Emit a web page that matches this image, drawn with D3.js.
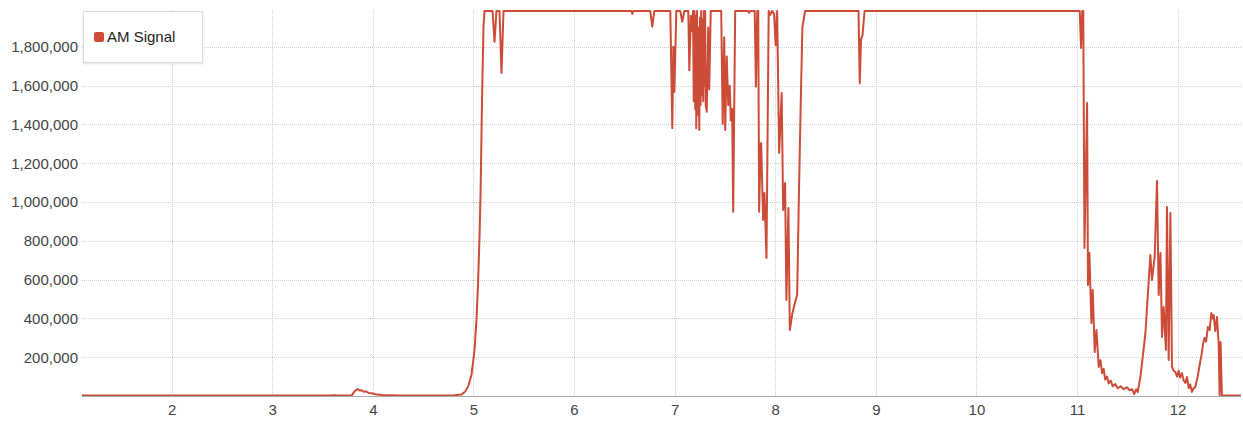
<!DOCTYPE html>
<html>
<head>
<meta charset="utf-8">
<script src="https://cdn.jsdelivr.net/npm/d3@7"></script>
<style>
  html, body { margin: 0; padding: 0; background: #fff; }
  svg { display: block; font-family: "Liberation Sans", Arial, sans-serif; }
</style>
</head>
<body>
<svg id="chart" width="1243" height="422"></svg>
<script>
// ---- data ----
const seriesName = "AM Signal";
const xTicks = [2, 3, 4, 5, 6, 7, 8, 9, 10, 11, 12];
const yTicks = [200000, 400000, 600000, 800000, 1000000, 1200000, 1400000, 1600000, 1800000];
const xValues = [
  1.109, 3.571, 3.621, 3.651, 3.790, 3.820, 3.849, 3.869, 3.889, 3.909, 3.929, 3.959, 3.988, 4.028, 4.097, 4.266,
  4.663, 4.812, 4.882, 4.922, 4.951, 4.981, 5.011, 5.031, 5.046, 5.061, 5.071, 5.080, 5.090, 5.100, 5.110,
  5.190, 5.210, 5.229, 5.259, 5.279, 5.299,
  6.570, 6.580, 6.590, 6.758, 6.778, 6.798,
  6.957, 6.977, 6.987, 6.997, 7.017, 7.056, 7.076, 7.096, 7.136, 7.146, 7.161,
  7.175, 7.183, 7.190, 7.197, 7.205, 7.210, 7.215, 7.222, 7.228, 7.235, 7.245, 7.252, 7.258, 7.264,
  7.270, 7.277, 7.284, 7.290, 7.296, 7.303, 7.309, 7.319, 7.334, 7.344, 7.359,
  7.463, 7.478, 7.493, 7.503, 7.518, 7.533, 7.548, 7.558, 7.572, 7.582, 7.602,
  7.731, 7.741, 7.751, 7.796, 7.808, 7.821, 7.831, 7.840, 7.855, 7.860, 7.880, 7.893, 7.913, 7.935,
  7.950, 7.969, 7.989, 8.004, 8.019, 8.039, 8.064, 8.079, 8.098, 8.111, 8.131, 8.145, 8.168, 8.203,
  8.218, 8.237, 8.254, 8.270, 8.297,
  8.828, 8.840, 8.853, 8.868, 8.888,
  11.027, 11.040, 11.052, 11.062, 11.074, 11.100, 11.109, 11.123, 11.143, 11.156, 11.176, 11.193,
  11.216, 11.233, 11.249, 11.265, 11.280, 11.298, 11.315, 11.335, 11.355, 11.380, 11.404, 11.434,
  11.464, 11.494, 11.524, 11.548, 11.568, 11.588, 11.603, 11.630, 11.653, 11.680, 11.705, 11.729,
  11.745, 11.772, 11.795, 11.812, 11.829, 11.845, 11.861, 11.884, 11.894, 11.911, 11.928, 11.944,
  11.961, 11.977, 11.995, 12.010, 12.025, 12.043, 12.060, 12.077, 12.093, 12.110, 12.125, 12.142,
  12.159, 12.176, 12.199, 12.219, 12.241, 12.253, 12.268, 12.283, 12.301, 12.318, 12.335, 12.348,
  12.358, 12.375, 12.391, 12.408, 12.417, 12.427, 12.440, 12.630
];
const signalValues = [
  2000, 2000, 4000, 2000, 3000, 25000, 36000, 28000, 30000, 22000, 24000, 16000, 14000, 9000, 5000, 3000,
  2500, 4000, 8000, 25000, 55000, 110000, 237000, 400000, 580000, 830000, 1050000, 1350000, 1650000, 1900000, 1985000,
  1985000, 1826000, 1985000, 1985000, 1665000, 1985000,
  1985000, 1970000, 1985000, 1985000, 1904000, 1985000,
  1985000, 1381000, 1800000, 1568000, 1985000, 1985000, 1929000, 1985000, 1985000, 1680000, 1960000,
  1880000, 1985000, 1520000, 1985000, 1480000, 1960000, 1381000, 1985000, 1450000, 1900000, 1371000, 1950000, 1500000, 1985000,
  1550000, 1940000, 1520000, 1985000, 1600000, 1985000, 1500000, 1466000, 1900000, 1580000, 1985000,
  1985000, 1402000, 1850000, 1371000, 1750000, 1500000, 1600000, 1420000, 1480000, 950000, 1985000,
  1985000, 1975000, 1985000, 1985000, 1595000, 1985000, 1985000, 950000, 1300000, 1304000, 907000, 1046000, 711000, 1985000,
  1965000, 1985000, 1970000, 1809000, 1985000, 1253000, 1562000, 959000, 1098000, 495000, 969000, 340000, 420000, 495000,
  520000, 1080000, 1520000, 1900000, 1985000,
  1985000, 1612000, 1840000, 1861000, 1985000,
  1985000, 1794000, 1985000, 1985000, 763000, 1510000, 572000, 737000, 376000, 546000, 227000, 340000,
  150000, 185000, 118000, 140000, 85000, 100000, 65000, 80000, 50000, 62000, 40000, 50000,
  35000, 45000, 30000, 35000, 10000, 35000, 20000, 98000, 200000, 325000, 531000, 727000,
  598000, 717000, 1108000, 521000, 737000, 304000, 459000, 237000, 974000, 186000, 943000, 150000,
  130000, 124000, 100000, 130000, 95000, 118000, 80000, 67000, 98000, 41000, 60000, 21000,
  40000, 46000, 100000, 160000, 222000, 270000, 299000, 280000, 356000, 340000, 428000, 400000,
  418000, 335000, 407000, 273000, 5000, 278000, 2000, 2000
];
const xDomain = [1.109, 12.63];
const yDomain = [0, 1990000];

// ---- layout ----
const W = 1243, H = 422;
const margin = { left: 82, right: 2, top: 10, bottom: 26 };
const lineColor = "#cd4c38";
const textColor = "#444";

const svg = d3.select("#chart");
const x = d3.scaleLinear().domain(xDomain).range([margin.left, W - margin.right]);
const y = d3.scaleLinear().domain(yDomain).range([H - margin.bottom, margin.top]);

// gridlines
const grid = svg.append("g");
grid.selectAll("line.hg").data(yTicks).join("line")
  .attr("x1", margin.left).attr("x2", W - margin.right)
  .attr("y1", d => Math.round(y(d)) + 0.5).attr("y2", d => Math.round(y(d)) + 0.5)
  .attr("stroke", "#cfcfcf").attr("stroke-width", 1).attr("stroke-dasharray", "1,1");
grid.selectAll("line.vg").data(xTicks).join("line")
  .attr("y1", margin.top).attr("y2", H - margin.bottom)
  .attr("x1", d => Math.round(x(d)) + 0.5).attr("x2", d => Math.round(x(d)) + 0.5)
  .attr("stroke", "#cfcfcf").attr("stroke-width", 1).attr("stroke-dasharray", "1,1");

// y axis labels
const yAxis = d3.axisLeft(y).tickValues(yTicks).tickSize(0).tickPadding(4)
  .tickFormat(d3.format(","));
const gy = svg.append("g").attr("transform", `translate(${margin.left},0)`).call(yAxis);
gy.select(".domain").remove();
gy.selectAll("text").attr("fill", textColor).style("font-size", "15px")
  .style("font-family", "'Liberation Sans', Arial, sans-serif");

// x axis
const xAxis = d3.axisBottom(x).tickValues(xTicks).tickSize(0).tickPadding(8)
  .tickFormat(d3.format("d"));
const gx = svg.append("g").attr("transform", `translate(0,${H - margin.bottom})`).call(xAxis);
gx.select(".domain").attr("stroke", "#aaa").attr("d", `M${margin.left},0.5H${W - margin.right}`);
gx.selectAll("text").attr("fill", textColor).style("font-size", "15px")
  .style("font-family", "'Liberation Sans', Arial, sans-serif");

// line
svg.append("clipPath").attr("id", "plotClip").append("rect")
  .attr("x", margin.left).attr("y", margin.top - 1)
  .attr("width", W - margin.left - margin.right).attr("height", H - margin.top - margin.bottom + 1);
const pts = xValues.map((v, i) => [v, signalValues[i]]);
const line = d3.line().x(d => x(d[0])).y(d => y(d[1]));
svg.append("path").datum(pts)
  .attr("clip-path", "url(#plotClip)")
  .attr("fill", "none").attr("stroke", lineColor).attr("stroke-width", 2)
  .attr("stroke-linejoin", "round")
  .attr("d", line);

// legend
const lg = svg.append("g");
lg.append("rect").attr("x", 83.5).attr("y", 11.5).attr("width", 119).attr("height", 51)
  .attr("fill", "#fff").attr("stroke", "#dcdcdc").attr("stroke-width", 1)
  .style("filter", "drop-shadow(0px 1px 1px rgba(0,0,0,0.12))");
lg.append("rect").attr("x", 94).attr("y", 32).attr("width", 10).attr("height", 10)
  .attr("rx", 2).attr("fill", lineColor);
lg.append("text").attr("x", 107).attr("y", 42).text(seriesName)
  .attr("fill", "#222").style("font-size", "15px");
</script>
</body>
</html>
